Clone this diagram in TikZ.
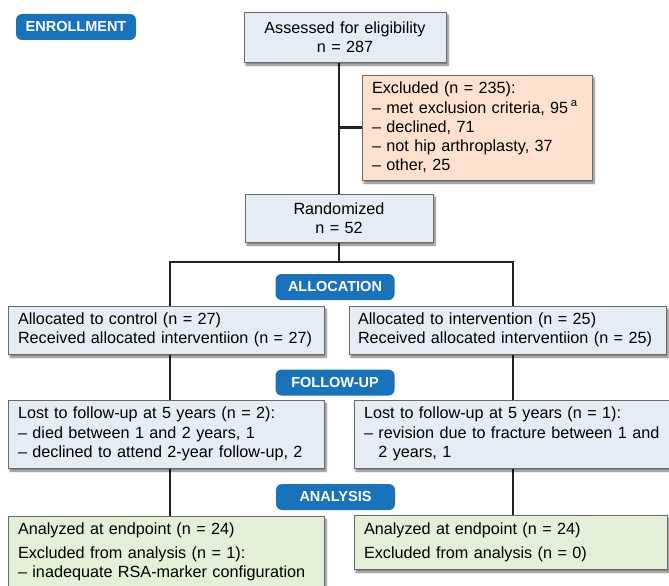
\documentclass[tikz,border=0pt]{standalone}
\usepackage{fontspec}
\setmainfont{Liberation Sans}
\usetikzlibrary{shadows.blur,backgrounds,calc}
\definecolor{badgeblue}{HTML}{1A72BB}
\definecolor{boxblue}{HTML}{E5ECF6}
\definecolor{boxpeach}{HTML}{FDE1CE}
\definecolor{boxgreen}{HTML}{E3EFD6}
\definecolor{boxline}{HTML}{6A6A6A}
\definecolor{conn}{HTML}{231F20}
\tikzset{
  flowbox/.style={draw=boxline, line width=0.8pt, inner ysep=0pt, inner xsep=9pt,
    font=\fontsize{16.2}{19.2}\selectfont,
    blur shadow={shadow xshift=2pt, shadow yshift=-3pt, shadow blur steps=6, shadow opacity=55}},
  bluebox/.style={flowbox, fill=boxblue},
  peachbox/.style={flowbox, fill=boxpeach},
  greenbox/.style={flowbox, fill=boxgreen},
  badge/.style={fill=badgeblue, rounded corners=6pt, text=white, inner sep=0pt,
    minimum width=119pt, minimum height=26pt, font=\fontsize{14.5}{16}\selectfont\bfseries},
  connector/.style={draw=conn, line width=2.6pt}
}
\begin{document}
\begin{tikzpicture}[x=1pt,y=-1pt]
\useasboundingbox (0,0) rectangle (669,586);
% badges
\node[badge, minimum width=120pt] (enroll) at (76,27) {ENROLLMENT};
\node[badge] (alloc) at (335,287) {ALLOCATION};
\node[badge] (follow) at (335,382.5) {FOLLOW-UP};
\node[badge] (analysis) at (335.5,497) {ANALYSIS};
% boxes
\node[bluebox, align=center, text width=184pt, minimum height=50pt] (assessed) at (345,37)
  {Assessed for eligibility\\n = 287};
\node[peachbox, align=left, inner xsep=10pt, text width=210pt, minimum height=105pt] (excl) at (477,127.5)
  {Excluded (n = 235):\\– met exclusion criteria, 95\,\textsuperscript{a}\\– declined, 71\\– not hip arthroplasty, 37\\– other, 25};
\node[bluebox, align=center, text width=170pt, minimum height=48pt] (rand) at (339,218)
  {Randomized\\n = 52};
\node[bluebox, align=left, inner xsep=10pt, text width=296pt, minimum height=48pt] (allocL) at (166,330)
  {Allocated to control (n = 27)\\Received allocated interventiion (n = 27)};
\node[bluebox, align=left, text width=299pt, minimum height=48pt] (allocR) at (507.5,330)
  {Allocated to intervention (n = 25)\\Received allocated interventiion (n = 25)};
\node[bluebox, align=left, inner xsep=10pt, text width=296pt, minimum height=68pt] (fuL) at (166,434)
  {Lost to follow-up at 5 years (n = 2):\\– died between 1 and 2 years, 1\\– declined to attend 2-year follow-up, 2};
\node[bluebox, align=left, inner xsep=10pt, text width=300pt, minimum height=68pt] (fuR) at (514,434)
  {Lost to follow-up at 5 years (n = 1):\\– revision due to fracture between 1 and\\\hphantom{– }2 years, 1};
\node[greenbox, align=left, inner xsep=10pt, text width=296pt, minimum height=72pt] (anL) at (166,552)
  {Analyzed at endpoint (n = 24)\\[5pt]Excluded from analysis (n = 1):\\– inadequate RSA-marker configuration};
\node[greenbox, align=left, inner xsep=10pt, text width=293pt, minimum height=54pt] (anR) at (510.5,542)
  {Analyzed at endpoint (n = 24)\\[5pt]Excluded from analysis (n = 0)};
% connector helpers
\coordinate (split) at (339,262);
\coordinate (colL) at (170,262);
\coordinate (colR) at (513,262);
\begin{scope}[on background layer]
\draw[connector] (assessed.south -| rand.north) -- (rand.north);
\draw[connector] (excl.west) -- (excl.west -| rand.north);
\draw[connector] (rand.south) -- (split);
\draw[connector] (colL |- allocL.north) -- (colL) -- (colR) -- (colR |- allocR.north);
\draw[connector] (colL |- allocL.south) -- (colL |- fuL.north);
\draw[connector] (colR |- allocR.south) -- (colR |- fuR.north);
\draw[connector] (colL |- fuL.south) -- (colL |- anL.north);
\draw[connector] (colR |- fuR.south) -- (colR |- anR.north);
\end{scope}
\end{tikzpicture}
\end{document}
